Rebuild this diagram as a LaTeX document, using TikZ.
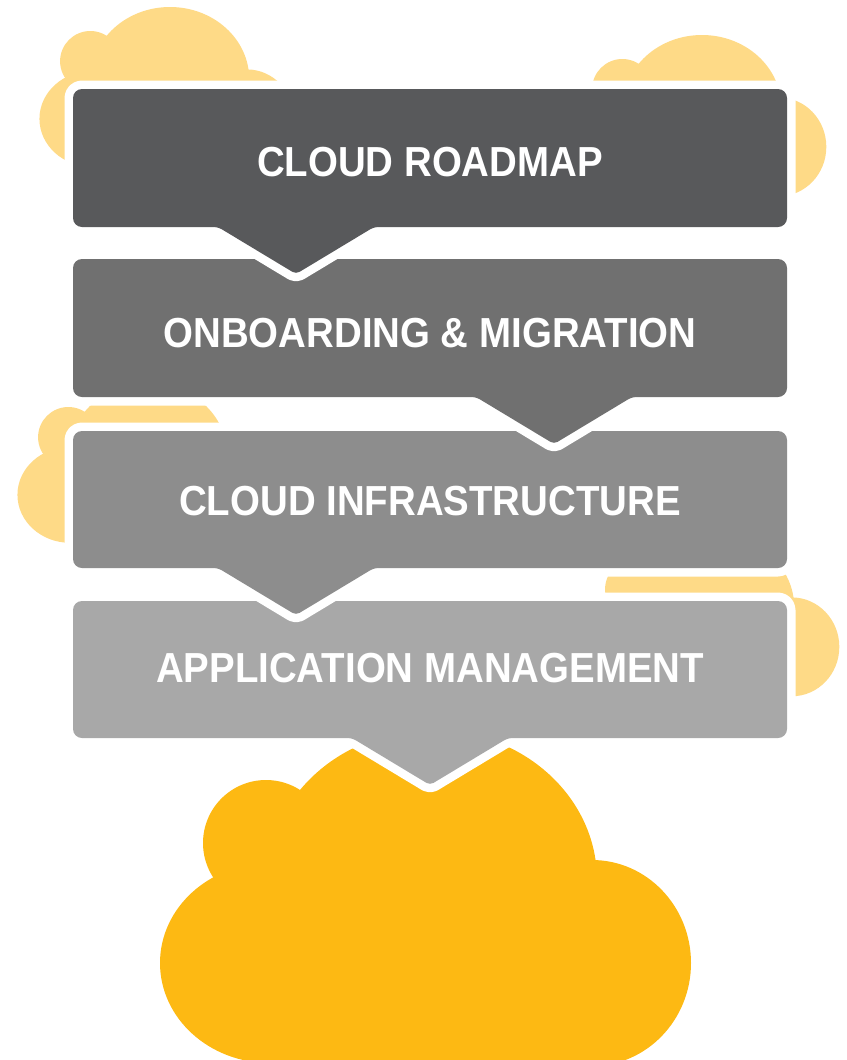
\documentclass[tikz,border=0pt]{standalone}
\usepackage{fontspec}
\newfontfamily\lblfont{Liberation Sans}[FakeStretch=0.915]
\definecolor{cloudgold}{HTML}{FDB913}
\definecolor{cloudlight}{HTML}{FEDA87}
\definecolor{stepA}{HTML}{58595B}
\definecolor{stepB}{HTML}{707070}
\definecolor{stepC}{HTML}{8D8D8D}
\definecolor{stepD}{HTML}{A8A8A8}
\tikzset{
  halo/.style={draw=white, fill=white, line width=17pt, line join=round},
  lbl/.style={text=white, inner sep=0pt, font=\lblfont\bfseries\fontsize{42}{46}\selectfont}
}
\newcommand\cloudat[4]{%
  \begin{scope}[shift={(#1,#2)}, scale=#3]
    \fill[#4] (-166,-37) circle [radius=63];
    \fill[#4] (0,0) ellipse [x radius=165, y radius=150];
    \fill[#4] (160,83) ellipse [x radius=99, y radius=103];
    \fill[#4] (-162,83) ellipse [x radius=110, y radius=100];
    \fill[#4] (-162,0) rectangle (160,186);
  \end{scope}}
\newcommand\steppath[3]{[rounded corners=9pt] (73,{#1+20}) -- (73,#1) -- (787,#1) -- (787,#2) [rounded corners=4pt] -- ({#3+78},#2) -- (#3,{#2+47}) -- ({#3-78},#2) [rounded corners=9pt] -- (73,#2) -- cycle}
\newcommand\drawstep[4]{%
  \path[halo] \steppath{#1}{#2}{#3};
  \path[fill=#4] \steppath{#1}{#2}{#3};}
\begin{document}
\begin{tikzpicture}[x=1pt,y=-1pt]
\useasboundingbox (0,0) rectangle (846,1060);
\clip (0,0) rectangle (846,1060);
% clouds
\cloudat{170}{79}{0.48}{cloudlight}
\cloudat{702}{107}{0.48}{cloudlight}
\cloudat{148}{455}{0.48}{cloudlight}
\cloudat{715}{607}{0.48}{cloudlight}
\cloudat{432}{880}{1}{cloudgold}
% steps, bottom to top
\drawstep{601}{738}{430}{stepD}
\node[lbl] (am) at (430,668) {APPLICATION MANAGEMENT};
\drawstep{431}{568}{296}{stepC}
\node[lbl] (ci) at (430,501) {CLOUD INFRASTRUCTURE};
\drawstep{259}{397}{554}{stepB}
\node[lbl] (om) at (430,333) {ONBOARDING \& MIGRATION};
\drawstep{89}{227}{296}{stepA}
\node[lbl] (cr) at (430,162) {CLOUD ROADMAP};
\end{tikzpicture}
\end{document}
